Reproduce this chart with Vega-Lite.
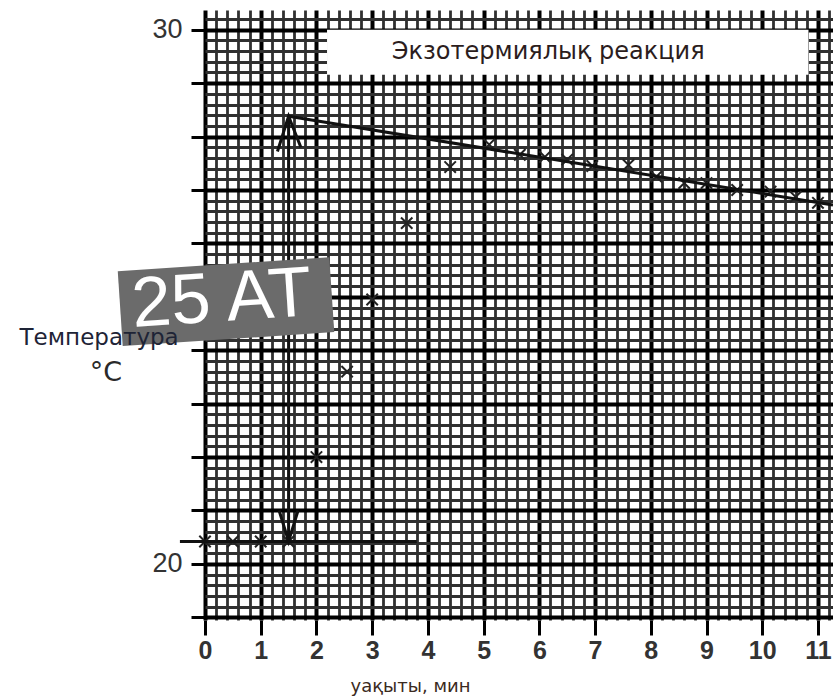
{
  "$schema": "https://vega.github.io/schema/vega-lite/v6.json",
  "width": 628,
  "height": 610,
  "autosize": {"type": "none"},
  "padding": {"left": 205, "top": 10, "right": 0, "bottom": 78},
  "background": "white",
  "config": {"view": {"stroke": null}},
  "datasets": {
    "readings": [
      {"t": 0, "temp": 20.42}, {"t": 0.5, "temp": 20.42}, {"t": 1, "temp": 20.42}, {"t": 1.5, "temp": 20.42},
      {"t": 2, "temp": 22.0}, {"t": 2.55, "temp": 23.6}, {"t": 3, "temp": 24.95}, {"t": 3.62, "temp": 26.38},
      {"t": 4.4, "temp": 27.43}, {"t": 5.1, "temp": 27.85}, {"t": 5.65, "temp": 27.66}, {"t": 6.1, "temp": 27.62},
      {"t": 6.5, "temp": 27.57}, {"t": 6.95, "temp": 27.45}, {"t": 7.6, "temp": 27.47}, {"t": 8.1, "temp": 27.25},
      {"t": 8.6, "temp": 27.13}, {"t": 9.0, "temp": 27.13}, {"t": 9.55, "temp": 27.0}, {"t": 10.15, "temp": 26.97},
      {"t": 10.6, "temp": 26.87}, {"t": 11.0, "temp": 26.76}
    ],
    "lines": [
      {"seg": "base", "o": 1, "t": -0.45, "temp": 20.42}, {"seg": "base", "o": 2, "t": 3.8, "temp": 20.42},
      {"seg": "cool", "o": 1, "t": 1.5, "temp": 28.38}, {"seg": "cool", "o": 2, "t": 11.27, "temp": 26.72},
      {"seg": "arrow", "o": 1, "t": 1.5, "temp": 20.42}, {"seg": "arrow", "o": 2, "t": 1.5, "temp": 28.38},
      {"seg": "headTop", "o": 1, "t": 1.3, "temp": 27.72}, {"seg": "headTop", "o": 2, "t": 1.5, "temp": 28.38}, {"seg": "headTop", "o": 3, "t": 1.72, "temp": 27.8},
      {"seg": "headBottom", "o": 1, "t": 1.33, "temp": 21.0}, {"seg": "headBottom", "o": 2, "t": 1.5, "temp": 20.42}, {"seg": "headBottom", "o": 3, "t": 1.67, "temp": 21.0}
    ],
    "one": [{}]
  },
  "layer": [
    {
      "data": {"name": "readings"},
      "mark": {"type": "point", "shape": "M-1,-1L1,1M-1,1L1,-1", "filled": false, "stroke": "#222", "strokeWidth": 2, "size": 130, "opacity": 1},
      "encoding": {
        "x": {
          "field": "t", "type": "quantitative",
          "scale": {"domain": [0, 11.27], "nice": false, "zero": false},
          "axis": {
            "values": [0,0.2,0.4,0.6,0.8,1,1.2,1.4,1.6,1.8,2,2.2,2.4,2.6,2.8,3,3.2,3.4,3.6,3.8,4,4.2,4.4,4.6,4.8,5,5.2,5.4,5.6,5.8,6,6.2,6.4,6.6,6.8,7,7.2,7.4,7.6,7.8,8,8.2,8.4,8.6,8.8,9,9.2,9.4,9.6,9.8,10,10.2,10.4,10.6,10.8,11,11.2],
            "tickCount": 500,
            "grid": true,
            "gridColor": {"condition": {"test": "datum.value % 1 === 0", "value": "#000"}, "value": "#303030"},
            "gridWidth": {"condition": {"test": "datum.value % 1 === 0", "value": 4}, "value": 2.8},
            "gridOpacity": 1,
            "domain": false,
            "tickColor": "#000",
            "tickWidth": 3,
            "tickSize": 15,
            "tickOpacity": {"condition": {"test": "datum.value % 1 === 0", "value": 1}, "value": 0},
            "labelExpr": "datum.value % 1 === 0 ? format(datum.value, 'd') : ''",
            "labelFont": "Liberation Sans",
            "labelFontSize": 25,
            "labelFontWeight": "bold",
            "labelColor": "#333",
            "labelPadding": 3,
            "labelOverlap": false,
            "labelFlush": false,
            "title": "уақыты, мин",
            "titleFont": "DejaVu Sans",
            "titleFontSize": 18,
            "titleFontWeight": "normal",
            "titleColor": "#3b2a20",
            "titleX": 205,
            "titleY": 66,
            "titleAlign": "center",
            "titleBaseline": "middle"
          }
        },
        "y": {
          "field": "temp", "type": "quantitative",
          "scale": {"domain": [18.95, 30.37], "nice": false, "zero": false},
          "axis": {
            "values": [19,19.2,19.4,19.6,19.8,20,20.2,20.4,20.6,20.8,21,21.2,21.4,21.6,21.8,22,22.2,22.4,22.6,22.8,23,23.2,23.4,23.6,23.8,24,24.2,24.4,24.6,24.8,25,25.2,25.4,25.6,25.8,26,26.2,26.4,26.6,26.8,27,27.2,27.4,27.6,27.8,28,28.2,28.4,28.6,28.8,29,29.2,29.4,29.6,29.8,30,30.2],
            "tickCount": 500,
            "grid": true,
            "gridColor": {"condition": {"test": "datum.value % 1 === 0", "value": "#000"}, "value": "#303030"},
            "gridWidth": {"condition": {"test": "datum.value % 1 === 0", "value": 4}, "value": 2.8},
            "gridOpacity": 1,
            "domain": false,
            "tickColor": "#000",
            "tickWidth": 3,
            "tickSize": 14,
            "tickOpacity": {"condition": {"test": "datum.value % 1 === 0", "value": 1}, "value": 0},
            "labelExpr": "(datum.value === 30 || datum.value === 20) ? format(datum.value, 'd') : ''",
            "labelFont": "Liberation Sans",
            "labelFontSize": 27,
            "labelColor": "#333",
            "labelPadding": 9,
            "labelOverlap": false,
            "labelFlush": false,
            "title": null
          }
        }
      }
    },
    {
      "data": {"name": "lines"},
      "mark": {"type": "line", "color": "#111", "strokeWidth": 3},
      "encoding": {
        "x": {"field": "t", "type": "quantitative"},
        "y": {"field": "temp", "type": "quantitative"},
        "detail": {"field": "seg"},
        "order": {"field": "o"}
      }
    },
    {
      "data": {"name": "one"},
      "mark": {"type": "rect", "fill": "white", "stroke": null},
      "encoding": {
        "x": {"datum": 2.19, "type": "quantitative"},
        "x2": {"datum": 10.83},
        "y": {"datum": 30.0, "type": "quantitative"},
        "y2": {"datum": 29.16}
      }
    },
    {
      "data": {"name": "one"},
      "mark": {"type": "text", "text": "Экзотермиялық реакция", "font": "DejaVu Sans", "fontSize": 24, "color": "#2b1d1d", "align": "center", "baseline": "middle"},
      "encoding": {
        "x": {"datum": 6.16, "type": "quantitative"},
        "y": {"datum": 29.59, "type": "quantitative"}
      }
    },
    {
      "data": {"name": "one"},
      "mark": {"type": "point", "shape": "M-1,-0.354L1,-0.354L1,0.354L-1,0.354Z", "filled": true, "fill": "#6b6b6b", "strokeWidth": 0, "size": 44944, "angle": -3.8, "opacity": 1},
      "encoding": {
        "x": {"datum": 0.377, "type": "quantitative"},
        "y": {"datum": 24.91, "type": "quantitative"}
      }
    },
    {
      "data": {"name": "one"},
      "mark": {"type": "text", "text": "25 AT", "font": "Liberation Sans", "fontSize": 71, "color": "white", "align": "center", "baseline": "middle", "angle": -3.8},
      "encoding": {
        "x": {"datum": 0.3, "type": "quantitative"},
        "y": {"datum": 24.94, "type": "quantitative"}
      }
    },
    {
      "data": {"name": "one"},
      "mark": {"type": "text", "text": "Температура", "font": "DejaVu Sans", "fontSize": 23, "color": "#1e2436", "align": "center", "baseline": "middle"},
      "encoding": {
        "x": {"datum": -1.9, "type": "quantitative"},
        "y": {"datum": 24.23, "type": "quantitative"}
      }
    },
    {
      "data": {"name": "one"},
      "mark": {"type": "text", "text": "°C", "font": "DejaVu Sans", "fontSize": 27, "color": "#2a2a2a", "align": "center", "baseline": "middle"},
      "encoding": {
        "x": {"datum": -1.78, "type": "quantitative"},
        "y": {"datum": 23.58, "type": "quantitative"}
      }
    }
  ]
}
